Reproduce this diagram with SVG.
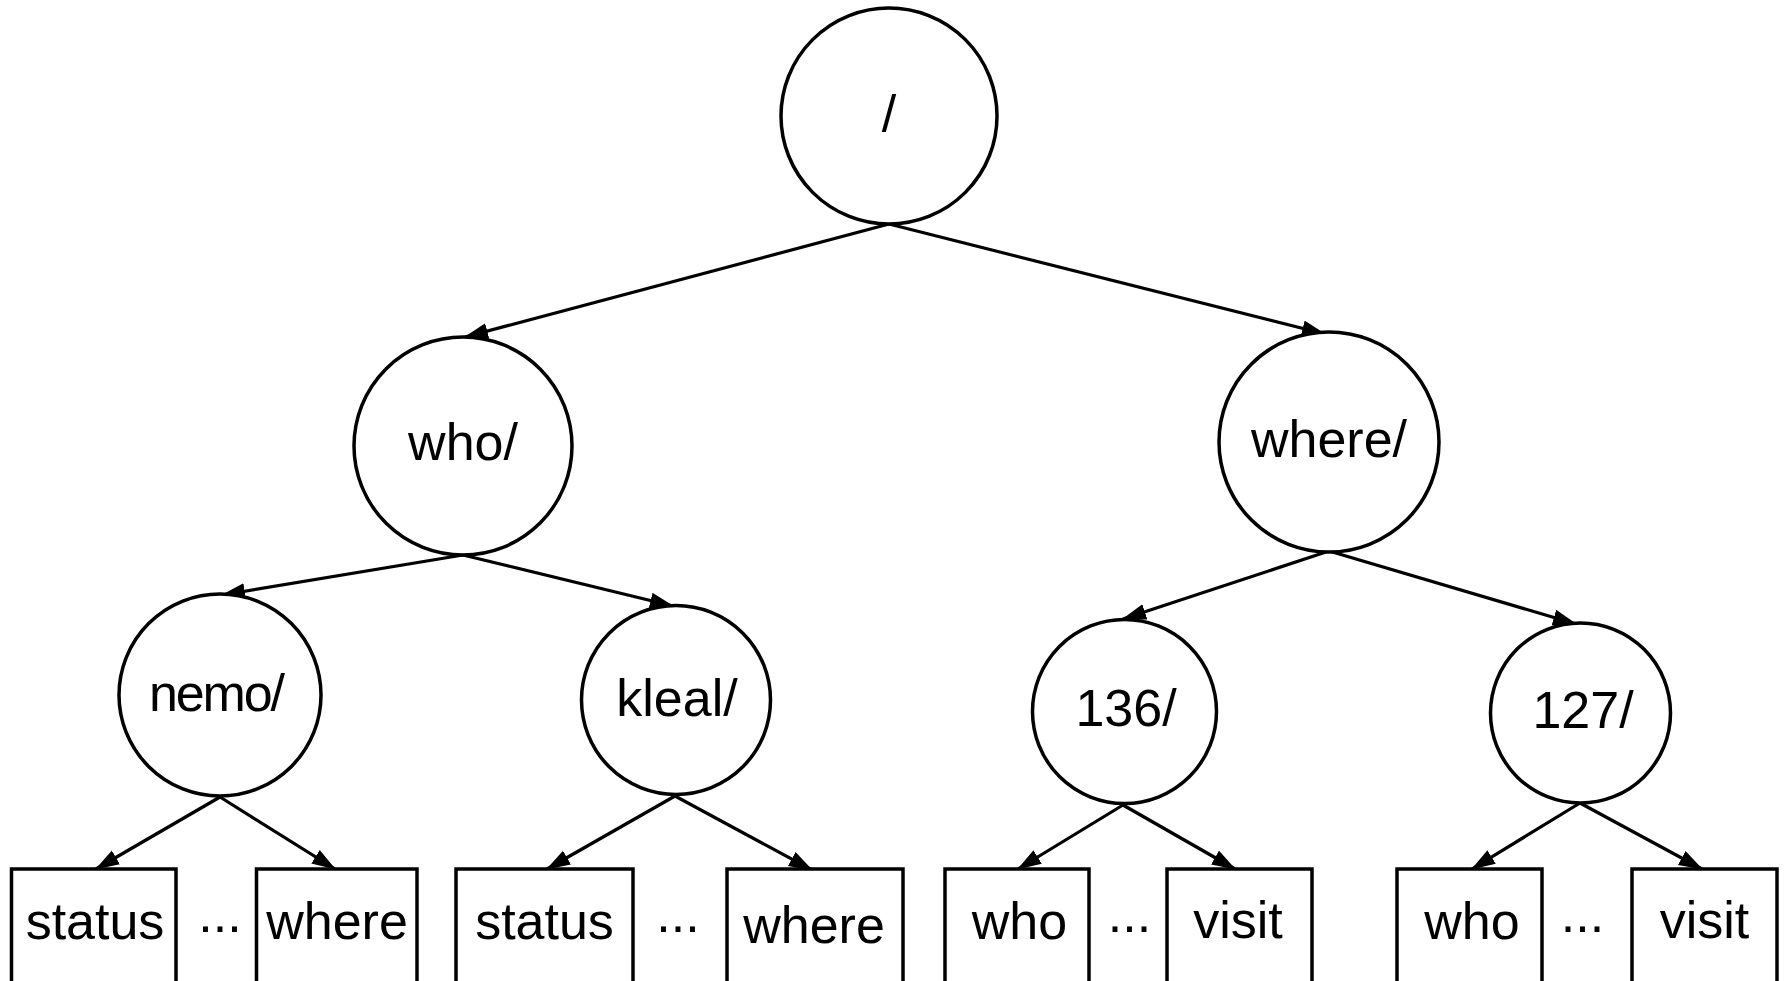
<svg xmlns="http://www.w3.org/2000/svg" width="1785" height="981" viewBox="0 0 1785 981">
<style>
.n{fill:#fff;stroke:#000;stroke-width:3.5}
.t{font-family:"Liberation Sans",Arial,sans-serif;font-size:52px;fill:#000;text-anchor:middle}
.e{stroke:#000;stroke-width:3.2;fill:none;marker-end:url(#ah)}
</style>
<defs>
<marker id="ah" markerUnits="userSpaceOnUse" markerWidth="26" markerHeight="18" refX="23" refY="8" orient="auto" viewBox="0 0 26 18">
<path d="M0,0 L24,8 L0,16 z" fill="#000"/>
</marker>
</defs>
<rect width="1785" height="981" fill="#fff"/>
<g id="connectors">
<line class="e" x1="889" y1="224" x2="465" y2="337"/>
<line class="e" x1="889" y1="224" x2="1325" y2="334"/>
<line class="e" x1="463" y1="555" x2="222" y2="595"/>
<line class="e" x1="463" y1="555" x2="673" y2="606"/>
<line class="e" x1="1329" y1="551" x2="1123" y2="619"/>
<line class="e" x1="1329" y1="551" x2="1576" y2="624"/>
<line class="e" x1="220" y1="797" x2="96" y2="869"/>
<line class="e" x1="220" y1="797" x2="335" y2="869"/>
<line class="e" x1="675" y1="796" x2="547" y2="869"/>
<line class="e" x1="675" y1="796" x2="812" y2="870"/>
<line class="e" x1="1123" y1="805" x2="1018" y2="869"/>
<line class="e" x1="1123" y1="805" x2="1235" y2="869"/>
<line class="e" x1="1580" y1="803" x2="1472" y2="869"/>
<line class="e" x1="1580" y1="803" x2="1702" y2="869"/>
</g>
<g id="root"><circle class="n" cx="889" cy="116" r="108"/><text class="t" x="889" y="132">/</text></g>
<g id="who"><circle class="n" cx="463" cy="446" r="109"/><text class="t" x="463" y="460">who/</text></g>
<g id="where"><circle class="n" cx="1329" cy="442" r="110"/><text class="t" x="1329" y="457">where/</text></g>
<g id="nemo"><circle class="n" cx="220" cy="695" r="101"/><text class="t" x="217" y="711" textLength="136" lengthAdjust="spacing">nemo/</text></g>
<g id="kleal"><circle class="n" cx="676" cy="700" r="94.5"/><text class="t" x="677" y="716">kleal/</text></g>
<g id="n136"><circle class="n" cx="1124.5" cy="711.5" r="92"/><text class="t" x="1126" y="726">136/</text></g>
<g id="n127"><circle class="n" cx="1580.5" cy="713" r="90"/><text class="t" x="1583" y="728">127/</text></g>
<g id="b1"><rect class="n" x="11.5" y="869" width="164.5" height="130"/><text class="t" x="95" y="939">status</text></g>
<g id="d1"><text class="t" x="220" y="932">...</text></g>
<g id="b2"><rect class="n" x="256.5" y="869" width="160.5" height="130"/><text class="t" x="337" y="939">where</text></g>
<g id="b3"><rect class="n" x="456" y="869" width="177" height="130"/><text class="t" x="544.5" y="939">status</text></g>
<g id="d2"><text class="t" x="678" y="932">...</text></g>
<g id="b4"><rect class="n" x="727" y="869" width="176" height="130"/><text class="t" x="814" y="943">where</text></g>
<g id="b5"><rect class="n" x="945" y="869" width="144" height="130"/><text class="t" x="1019.5" y="939">who</text></g>
<g id="d3"><text class="t" x="1129.5" y="932">...</text></g>
<g id="b6"><rect class="n" x="1167" y="869" width="145" height="130"/><text class="t" x="1238" y="938">visit</text></g>
<g id="b7"><rect class="n" x="1397" y="869" width="145" height="130"/><text class="t" x="1472" y="939">who</text></g>
<g id="d4"><text class="t" x="1582.5" y="932">...</text></g>
<g id="b8"><rect class="n" x="1632" y="869" width="145" height="130"/><text class="t" x="1704.5" y="938">visit</text></g>
</svg>
